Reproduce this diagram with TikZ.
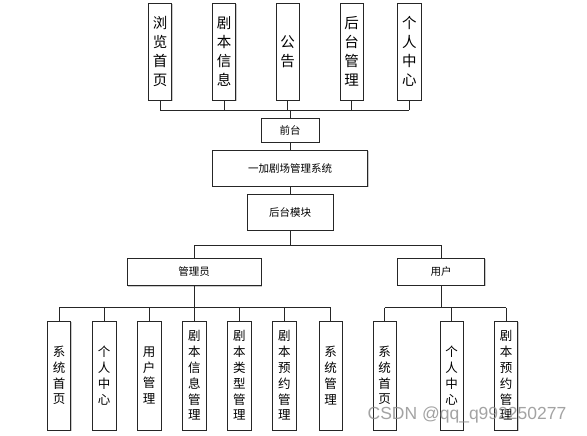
\documentclass[tikz,border=0pt]{standalone}
\usepackage{fontspec}
\newfontfamily\cjk{Noto Sans CJK SC}
\newfontfamily\wmfont{Liberation Sans}
\usetikzlibrary{shadows}

\tikzset{
    box/.style={draw=black!85,line width=0.7pt,fill=white,inner sep=0pt,align=center,
        drop shadow={shadow xshift=1pt,shadow yshift=-1pt,fill=black!35,opacity=0.6}},
    topbox/.style={box,minimum width=23.5pt,minimum height=97pt,font=\cjk\fontsize{14.5}{19}\selectfont},
    kidbox/.style={box,minimum width=23.5pt,minimum height=109pt,font=\cjk\fontsize{12.5}{15.8}\selectfont},
    midbox/.style={box,font=\cjk\fontsize{10.5}{12}\selectfont},
    link/.style={draw=black!85,line width=0.7pt}
}

\begin{document}
\begin{tikzpicture}[x=1pt,y=-1pt]
        \useasboundingbox (0,0) rectangle (587,436);

        %TOP ROW (front end)
        \node[topbox] (t1) at (160,51.5) {浏\\览\\首\\页};
        \node[topbox] (t2) at (224,51.5) {剧\\本\\信\\息};
        \node[topbox] (t3) at (287.7,51.5) {公\\告};
        \node[topbox] (t4) at (351.7,51.5) {后\\台\\管\\理};
        \node[topbox] (t5) at (409.3,51.5) {个\\人\\中\\心};
        \coordinate (bus1) at (290,110);

        %MIDDLE
        \node[midbox,minimum width=58pt,minimum height=24pt] (qt) at (290,130) {前台};
        \node[midbox,minimum width=155pt,minimum height=36pt] (sys) at (290,168) {一加剧场管理系统};
        \node[midbox,minimum width=86pt,minimum height=36pt] (ht) at (290,212) {后台模块};
        \coordinate (bus2) at (290,245);

        %ROLES
        \node[midbox,minimum width=134pt,minimum height=27pt] (admin) at (194,272) {管理员};
        \node[midbox,minimum width=87pt,minimum height=27pt] (user) at (441,271.5) {用户};
        \coordinate (bus3) at (194,307.7);

        %ADMIN CHILDREN
        \foreach \x/\txt [count=\i] in {59/{系\\统\\首\\页},104.2/{个\\人\\中\\心},149.2/{用\\户\\管\\理},
            194.4/{剧\\本\\信\\息\\管\\理},239.4/{剧\\本\\类\\型\\管\\理},284.4/{剧\\本\\预\\约\\管\\理},
            330.7/{系\\统\\管\\理}}{
            \node[kidbox] (a\i) at (\x,375.5) {\txt};
        } %end of admin loop

        %USER CHILDREN
        \foreach \x/\txt [count=\i] in {384.7/{系\\统\\首\\页},451.7/{个\\人\\中\\心},506/{剧\\本\\预\\约\\管\\理}}{
            \node[kidbox] (u\i) at (\x,375.5) {\txt};
        } %end of user loop

        %CONNECTORS
        \foreach \i in {1,...,5}{
            \draw[link] (t\i.south) -- (t\i.south |- bus1);
        }
        \draw[link] (t1.south |- bus1) -- (t5.south |- bus1);
        \draw[link] (qt.north |- bus1) -- (qt.north);
        \draw[link] (qt.south) -- (sys.north);
        \draw[link] (sys.south) -- (ht.north);
        \draw[link] (ht.south) -- (bus2);
        \draw[link] (admin.north |- bus2) -- (user.north |- bus2);
        \draw[link] (admin.north |- bus2) -- (admin.north);
        \draw[link] (user.north |- bus2) -- (user.north);
        \draw[link] (admin.south) -- (bus3);
        \draw[link] (a1.north |- bus3) -- (a7.north |- bus3);
        \foreach \i in {1,...,7}{
            \draw[link] (a\i.north |- bus3) -- (a\i.north);
        }
        \draw[link] (user.south) -- (user.south |- bus3);
        \draw[link] (u1.north |- bus3) -- (u3.north |- bus3);
        \foreach \i in {1,...,3}{
            \draw[link] (u\i.north |- bus3) -- (u\i.north);
        }

        %WATERMARK
        \node[font=\wmfont\fontsize{17.5}{19}\selectfont,text=black!45,opacity=0.8,inner sep=0pt] (wm) at (467,415) {CSDN @qq\_q992250277};
    \end{tikzpicture}
\end{document}
